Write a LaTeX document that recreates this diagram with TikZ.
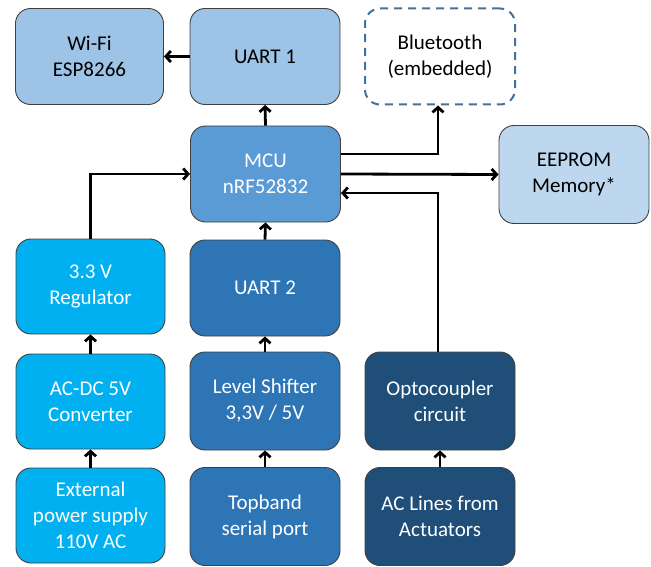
\documentclass[tikz,border=0pt]{standalone}
\usepackage{fontspec}
\setmainfont{Carlito}
\usetikzlibrary{arrows.meta}
\definecolor{cwifi}{HTML}{9DC3E6}
\definecolor{ceep}{HTML}{BDD7EE}
\definecolor{cmcu}{HTML}{5B9BD5}
\definecolor{cpow}{HTML}{00B0F0}
\definecolor{cmid}{HTML}{2E75B6}
\definecolor{cdark}{HTML}{1F4E79}
\definecolor{cbord}{HTML}{404040}
\definecolor{cdash}{HTML}{41719C}
\begin{document}
\begin{tikzpicture}[x=1pt,y=-1pt,
  blk/.style={rectangle, rounded corners=15pt, draw=cbord, line width=0.9pt,
    minimum width=150pt, minimum height=96pt, align=center, inner sep=2pt,
    font=\fontsize{21}{26}\selectfont},
  light/.style={blk, text=black},
  dark/.style={blk, text=white},
  arr/.style={line width=2.8pt, -{Straight Barb[length=5pt,width=11pt]}}]
\useasboundingbox (0,0) rectangle (651,567);
% row 1
\node[light, fill=cwifi, minimum width=148pt] (wifi) at (89.5,56.5) {Wi-Fi\\ESP8266};
\node[light, fill=cwifi] (uart1) at (265,56.5) {UART 1};
\node[light, fill=white, draw=cdash, line width=2pt, dash pattern=on 8pt off 6pt] (bt) at (440,56.5) {Bluetooth\\(embedded)};
% row 2
\node[dark, fill=cmcu] (mcu) at (265.5,174) {MCU\\nRF52832};
\node[light, fill=ceep, minimum height=98pt] (eep) at (574,174.5) {EEPROM\\Memory*};
% row 3
\node[dark, fill=cpow, minimum width=149pt, minimum height=95pt] (reg) at (90.5,286.5) {3.3 V\\Regulator};
\node[dark, fill=cmid] (uart2) at (265,288) {UART 2};
% row 4
\node[dark, fill=cpow, minimum width=149pt, minimum height=95pt] (conv) at (90.5,401.5) {AC-DC 5V\\Converter};
\node[dark, fill=cmid, minimum height=98pt] (lvl) at (265,401) {Level Shifter\\3,3V / 5V};
\node[dark, fill=cdark, minimum height=98pt] (opto) at (440,401) {Optocoupler\\circuit};
% row 5
\node[dark, fill=cpow, minimum width=149pt, minimum height=95pt] (ext) at (90.5,515.5) {External\\power supply\\110V AC};
\node[dark, fill=cmid, minimum height=98pt] (top) at (265,516.5) {Topband\\serial port};
\node[dark, fill=cdark, minimum height=98pt] (acl) at (440,516.5) {AC Lines from\\Actuators};
% helper coordinates
\coordinate (ybt) at (0,154);
\coordinate (yop) at (0,193);
\coordinate (xline) at (438,0);
% connectors
\draw[arr] (uart1.west) -- (wifi.east);
\draw[arr] (mcu.north) -- (uart1.south);
\draw[arr] (mcu.east |- ybt) -| (xline |- bt.south);
\draw[arr] (mcu.east) -- (eep.west);
\draw[arr] (xline |- opto.north) |- (mcu.east |- yop);
\draw[arr] (reg.north) |- (mcu.west);
\draw[arr] (uart2.north) -- (mcu.south);
\draw[arr] (conv.north) -- (reg.south);
\draw[arr] (ext.north) -- (conv.south);
\draw[arr] (lvl.north) -- (uart2.south);
\draw[arr] (top.north) -- (lvl.south);
\draw[arr] (acl.north) -- (opto.south);
\end{tikzpicture}
\end{document}
